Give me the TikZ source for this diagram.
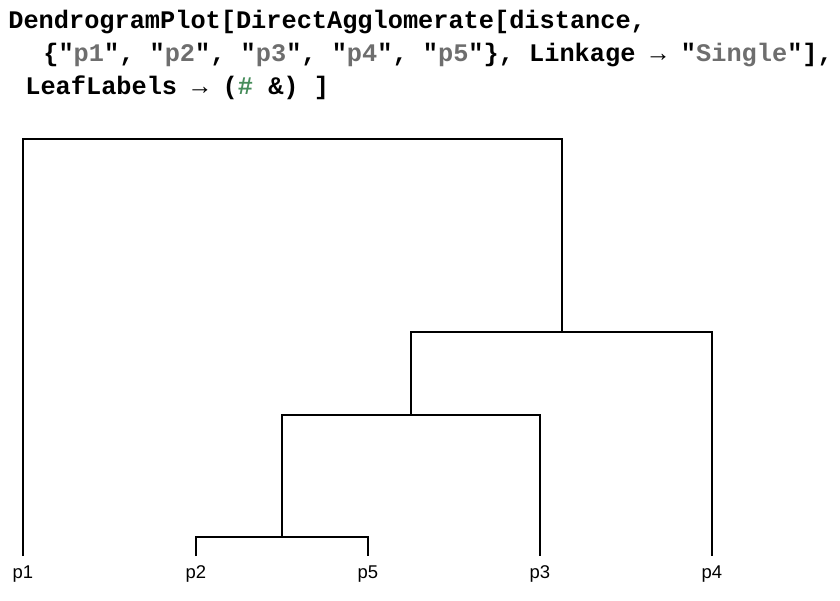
\documentclass[tikz,border=0pt]{standalone}
\usepackage{fontspec}
\setmainfont{Liberation Sans}
\setmonofont{Liberation Mono}
\definecolor{strgray}{RGB}{110,110,110}
\definecolor{slotgreen}{RGB}{70,140,90}
\newcommand{\str}[1]{"\textcolor{strgray}{#1}"}
\tikzset{
	code/.style={anchor=base west, inner sep=0, font=\fontsize{14.4}{16}\selectfont\ttfamily\bfseries},
	leaf/.style={anchor=north, inner xsep=0, inner ysep=5.5pt, outer sep=0, font=\fontsize{10.5}{12}\selectfont},
	link/.style={thick, line join=miter}
}
\begin{document}
\begin{tikzpicture}[x=0.02cm, y=-0.02cm]
	\useasboundingbox (0, 0) rectangle (840, 600);
	% input cell
	\node[code] at (8, 28)   (line1) {DendrogramPlot[DirectAgglomerate[distance,};
	\node[code] at (43, 61)  (line2) {\{\str{p1}, \str{p2}, \str{p3}, \str{p4}, \str{p5}\}, Linkage → \str{Single}],};
	\node[code] at (25, 94)  (line3) {LeafLabels → (\textcolor{slotgreen}{\#} \&) ]};
	% leaves
	\node[leaf] at (23, 556)   (p1) {p1};
	\node[leaf] at (196, 556)  (p2) {p2};
	\node[leaf] at (368, 556)  (p5) {p5};
	\node[leaf] at (540, 556)  (p3) {p3};
	\node[leaf] at (712, 556)  (p4) {p4};
	% merges
	\coordinate (m25) at (282, 537);
	\coordinate (m253) at (411, 415);
	\coordinate (m2534) at (562, 332);
	\coordinate (mall) at (292, 139);
	\draw[link] (p2.north) |- (m25) -| (p5.north);
	\draw[link] (m25) |- (m253) -| (p3.north);
	\draw[link] (m253) |- (m2534) -| (p4.north);
	\draw[link] (p1.north) |- (mall) -| (m2534);
\end{tikzpicture}
\end{document}
